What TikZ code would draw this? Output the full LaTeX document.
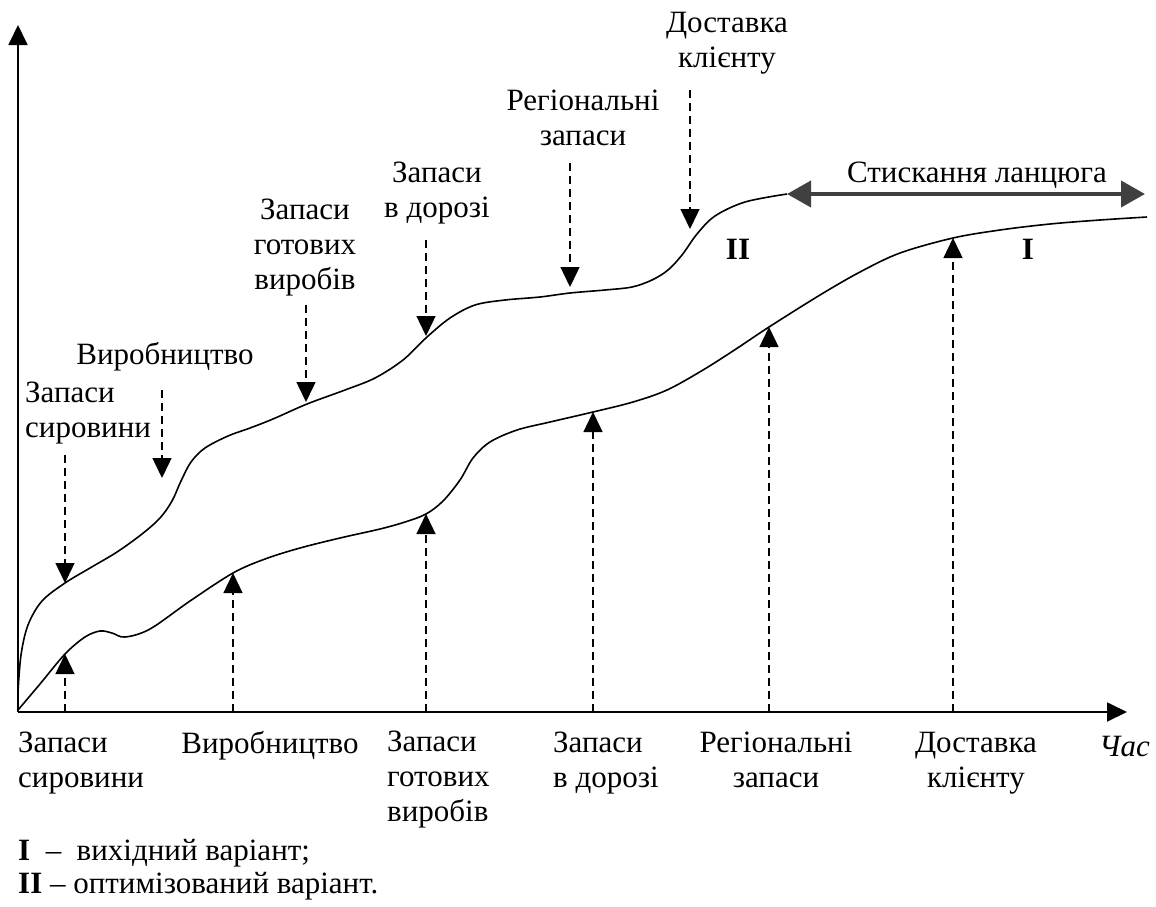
\documentclass[tikz,border=0pt]{standalone}
\usepackage{fontspec}
\setmainfont{Liberation Serif}
\usetikzlibrary{arrows.meta}
\usetikzlibrary{positioning}

\tikzset{
  profile/.style={line width=1.6pt},
  pointer/.style={line width=1.4pt, dash pattern=on 8pt off 5pt, -{Triangle[length=20pt,width=19pt]}},
  axisline/.style={line width=1.8pt, -{Triangle[length=20pt,width=19pt]}},
  squeeze/.style={draw=black!75, line width=4pt, {Triangle[length=24pt,width=26pt]}-{Triangle[length=24pt,width=26pt]}},
  lbl/.style={inner sep=0pt, align=center}
}

\begin{document}
\begin{tikzpicture}[x=1pt, y=-1pt, font=\fontsize{31}{35}\selectfont]
  \useasboundingbox (0,0) rectangle (1156,906);

  % axes
  \coordinate (o) at (18,712);
  \coordinate (ytop) at (18,25);
  \coordinate (xend) at (1127,712);
  \draw [axisline] (o) -- (ytop);
  \draw [axisline] (o) -- (xend);

  % curve I (initial)
  \draw [profile] plot [smooth, tension=0.55] coordinates {(18,710) (40,684) (65,654) (85,637) (100,631) (112,633) (125,637) (150,629) (190,601) (233,573) (265,559) (300,548) (340,538) (380,529) (405,522) (426,514) (443,501) (460,480) (473,458) (490,442) (517,430) (550,422) (593,412) (633,402) (667,390) (703,370) (736,349) (769,327) (820,295) (860,272) (900,253) (953,238) (1000,230) (1050,224) (1100,220) (1147,217)};
  % curve II (optimised)
  \draw [profile] plot [smooth, tension=0.55] coordinates {(18,692) (21,655) (28,625) (42,601) (65,583) (90,568) (117,552) (142,534) (160,518) (172,501) (181,481) (191,462) (205,448) (228,436) (250,428) (273,419) (307,404) (345,390) (375,378) (403,360) (427,337) (450,318) (475,305) (505,300) (540,297) (570,293) (605,290) (632,287) (652,280) (668,270) (682,255) (697,234) (715,216) (745,202) (787,194)};

  % points on the curves
  \coordinate (p1) at (65,583);
  \coordinate (p2) at (162,478);
  \coordinate (p3) at (306,402);
  \coordinate (p4) at (426,336);
  \coordinate (p5) at (570,287);
  \coordinate (p6) at (690,229);
  \coordinate (q1) at (65,654);
  \coordinate (q2) at (233,573);
  \coordinate (q3) at (426,514);
  \coordinate (q4) at (593,412);
  \coordinate (q5) at (769,327);
  \coordinate (q6) at (953,238);
  \coordinate (c2) at (787,194);
  \coordinate (c1) at (1145,194);

  % labels above
  \node [lbl, align=left, anchor=west] (ts) at (25,413) {Запаси\\сировини};
  \node [lbl] (tp) at (165,357) {Виробництво};
  \node [lbl] (tg) at (305,248) {Запаси\\готових\\виробів};
  \node [lbl] (td) at (437,193) {Запаси\\в дорозі};
  \node [lbl] (tr) at (583,118) {Регіональні\\запаси};
  \node [lbl] (tk) at (727,43) {Доставка\\клієнту};

  \coordinate (s1) at (65,455);
  \coordinate (s2) at (162,390);
  \coordinate (s3) at (306,305);
  \coordinate (s4) at (426,240);
  \coordinate (s5) at (570,163);
  \coordinate (s6) at (690,90);
  \foreach \i in {1,...,6}
    \draw [pointer] (s\i) -- (p\i);
  \foreach \i in {1,...,6}
    \draw [pointer] (q\i |- o) -- (q\i);

  % labels below
  \node [lbl, align=left, anchor=west] (bs) at (18,763) {Запаси\\сировини};
  \node [lbl] (bp) at (270,746) {Виробництво};
  \node [lbl, align=left, anchor=west] (bg) at (387,780) {Запаси\\готових\\виробів};
  \node [lbl, align=left, anchor=west] (bd) at (553,763) {Запаси\\в дорозі};
  \node [lbl] (br) at (776,760) {Регіональні\\запаси};
  \node [lbl] (bk) at (976,763) {Доставка\\клієнту};
  \node [lbl, anchor=east] (time) at (1150,746) {\itshape Час};

  % chain compression
  \draw [squeeze] (c2) -- (c1);
  \node [lbl] (sq) at (977,175) {Стискання ланцюга};
  \node [lbl] (n2) at (738,249) {\bfseries II};
  \node [lbl] (n1) at (1028,249) {\bfseries I};

  % legend
  \node [lbl, anchor=west] (l1) at (18,853) {\textbf{I}\ \ –\ \ вихідний варіант;};
  \node [lbl, anchor=west] (l2) at (18,886) {\textbf{II} – оптимізований варіант.};
\end{tikzpicture}
\end{document}
